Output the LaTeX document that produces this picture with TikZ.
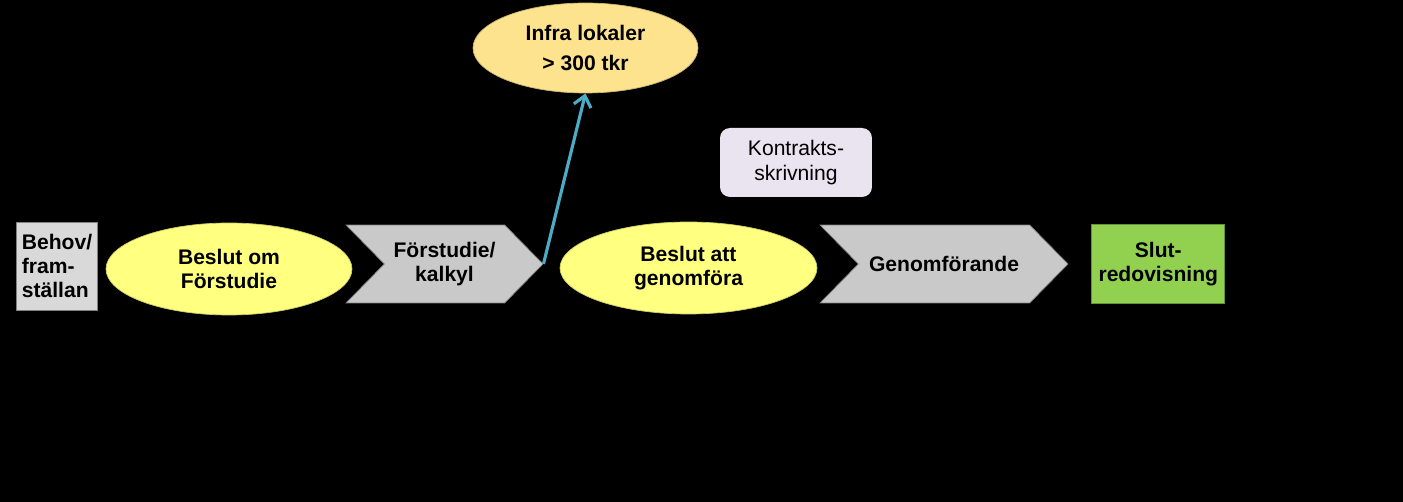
\documentclass[tikz,border=0pt]{standalone}
\usepackage{fontspec}
\setmainfont{Liberation Sans}
\usetikzlibrary{arrows.meta,shapes.geometric,shapes.symbols,positioning}

\definecolor{ovalyellow}{HTML}{FFFF80}
\definecolor{ovalorange}{HTML}{FDE38E}
\definecolor{stepgray}{HTML}{C9C9C9}
\definecolor{boxgray}{HTML}{D9D9D9}
\definecolor{lavender}{HTML}{E9E4F0}
\definecolor{donegreen}{HTML}{92D050}
\definecolor{arrowblue}{HTML}{4BACC6}

\begin{document}
\begin{tikzpicture}[x=0.02cm,y=-0.02cm,semithick,
  every node/.style={inner sep=0pt,align=center,font=\fontsize{12}{13.5}\selectfont\bfseries},
  decision/.style={ellipse,draw=ovalyellow!80!black,thin,fill=ovalyellow,minimum height=1.84cm},
  phase/.style={signal,signal to=east,signal from=west,signal pointer angle=91,draw=gray,thin,fill=stepgray,minimum height=1.56cm}]

\fill[black] (0,0) rectangle (1403,502);

\node[draw=gray,thin,fill=boxgray,minimum width=1.62cm,minimum height=1.76cm,align=left] (Behov) at (57,266) {Behov/\\fram-\\ställan};

\node[decision,minimum width=4.92cm] (BeslutF) at (229,269) {Beslut om\\Förstudie};
\node[phase,minimum width=3.94cm] (Forstudie) at (444.5,264) {Förstudie/\\kalkyl};

\node[ellipse,draw=ovalorange!80!black,thin,fill=ovalorange,minimum width=4.5cm,minimum height=1.8cm,
      font=\fontsize{12}{17}\selectfont\bfseries] (Infra) at (585.5,48) {Infra lokaler\\> 300 tkr};

\node[rounded corners=0.2cm,fill=lavender,minimum width=3.04cm,minimum height=1.38cm,
      font=\fontsize{12}{14.5}\selectfont] (Kontrakt) at (796,162.5) {Kontrakts-\\skrivning};

\node[decision,minimum width=5.14cm] (BeslutG) at (688.5,268) {Beslut att\\genomföra};
\node[phase,minimum width=4.96cm] (Genom) at (944,264) {Genomförande};

\node[draw=donegreen!70!black,thin,fill=donegreen,minimum width=2.66cm,minimum height=1.58cm] (Slut) [right=0.46cm of Genom] {Slut-\\redovisning};

\path (Forstudie.east) edge[-{Straight Barb[length=6pt,width=10pt]},arrowblue,line width=1.8pt] (Infra.south);

\end{tikzpicture}
\end{document}
